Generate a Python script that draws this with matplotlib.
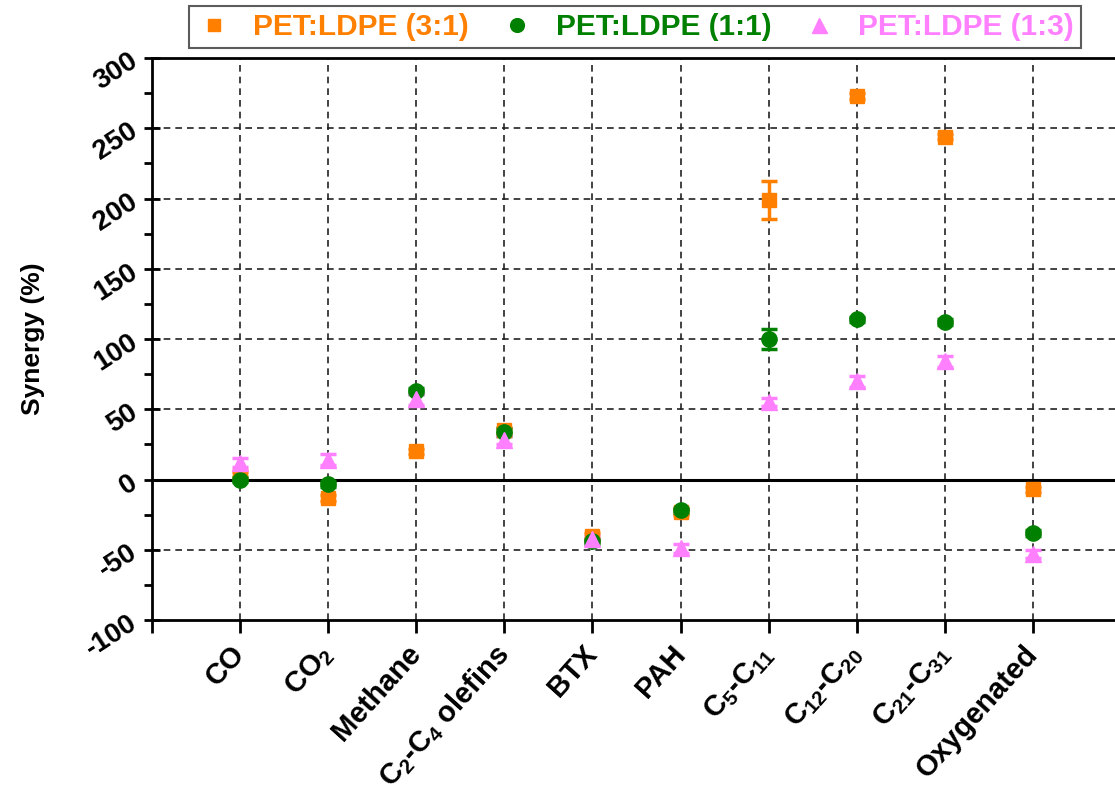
import matplotlib
matplotlib.use("Agg")
import matplotlib.pyplot as plt
from matplotlib.lines import Line2D
import numpy as np

plt.rcParams['font.family'] = ['Liberation Sans', 'DejaVu Sans']
plt.rcParams['font.weight'] = 'bold'
plt.rcParams['mathtext.fontset'] = 'custom'
plt.rcParams['mathtext.rm'] = 'Liberation Sans'
plt.rcParams['mathtext.it'] = 'Liberation Sans:italic'
plt.rcParams['mathtext.bf'] = 'Liberation Sans:bold'
plt.rcParams['mathtext.default'] = 'regular'
plt.rcParams['axes.unicode_minus'] = False

categories = ['CO', 'CO$_2$', 'Methane', 'C$_2$-C$_4$ olefins', 'BTX', 'PAH',
              'C$_5$-C$_{11}$', 'C$_{12}$-C$_{20}$', 'C$_{21}$-C$_{31}$', 'Oxygenated']

series_names = ['PET:LDPE (3:1)', 'PET:LDPE (1:1)', 'PET:LDPE (1:3)']
synergy_31 = [3, -13, 20, 35, -40, -23, 199, 273, 244, -7]
synergy_11 = [0, -3, 63, 34, -44, -22, 100, 114, 112, -38]
synergy_13 = [12, 14, 57, 28, -42, -49, 55, 70, 84, -53]
err_31 = [2, 2, 2, 2, 2, 2, 13.5, 2, 2, 2]
err_11 = [2, 2, 2, 3, 2, 2, 7, 2, 2, 2]
err_13 = [3, 4, 4, 3, 2, 3, 3, 4, 4, 3]

y_ticks = [-100, -50, 0, 50, 100, 150, 200, 250, 300]

colors = ['#FF8000', '#008000', '#FF80FF']
markers = ['s', 'o', '^']
sizes = [10, 11, 12]

fig = plt.figure(figsize=(11.15, 7.96), dpi=100)
ax = fig.add_axes([152 / 1115, 1 - 620 / 796, 969 / 1115, 562 / 796])

x = np.arange(1, len(categories) + 1)
for vals, errs, c, m, s in zip([synergy_31, synergy_11, synergy_13],
                               [err_31, err_11, err_13], colors, markers, sizes):
    ax.errorbar(x, vals, yerr=errs, fmt=m, color=c, ms=s, mec=c,
                ecolor=c, elinewidth=2.5, capsize=6, capthick=2.5, zorder=3)

ax.set_xlim(0, len(categories) + 1)
ax.set_ylim(-100, 300)
ax.set_yticks(y_ticks)
ax.set_yticks(np.arange(-100, 301, 25), minor=True)
ax.set_xticks(np.arange(0, len(categories) + 1))
ax.set_xticklabels([''] + categories)

ax.axhline(0, color='black', lw=2.2, zorder=2)
for yy in y_ticks[1:-1]:
    if yy != 0:
        ax.axhline(yy, color='#222222', lw=1.2, ls=(0, (4, 3)), zorder=1)
for xx in x:
    ax.axvline(xx, color='#222222', lw=1.2, ls=(0, (4, 3)), zorder=1)

for side in ['left', 'bottom', 'top']:
    ax.spines[side].set_linewidth(2)
ax.spines['right'].set_visible(False)

ax.tick_params(axis='y', which='major', direction='inout', length=12, width=2,
               labelsize=20, pad=1)
ax.tick_params(axis='y', which='minor', direction='out', length=6, width=2)
ax.tick_params(axis='x', which='major', direction='out', length=9, width=2,
               labelsize=21, pad=12)
for lab in ax.get_yticklabels():
    lab.set_rotation(33)
    lab.set_fontweight('bold')
for lab in ax.get_xticklabels():
    lab.set_rotation(48)
    lab.set_ha('right')
    lab.set_va('center')
    lab.set_rotation_mode('anchor')
    lab.set_fontweight('bold')

ax.set_ylabel('Synergy (%)', fontsize=19, fontweight='bold', labelpad=26)

handles = [Line2D([], [], ls='none', marker=m, color=c, ms=s * 0.9)
           for c, m, s in zip(colors, markers, sizes)]
leg = fig.legend(handles, series_names, loc='center', bbox_to_anchor=(635 / 1115, 1 - 27 / 796),
                 ncol=3, frameon=True, fancybox=False, edgecolor='#333333',
                 fontsize=21.5, handletextpad=0.7, columnspacing=1.0,
                 borderpad=0.25, handlelength=1.2)
leg.get_frame().set_linewidth(1.5)
for txt, c in zip(leg.get_texts(), colors):
    txt.set_color(c)
    txt.set_fontweight('bold')

fig.savefig('out.png', dpi=100)
